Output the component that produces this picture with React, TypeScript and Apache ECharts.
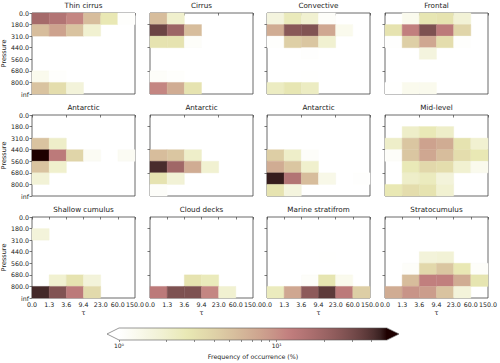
import React, { useEffect, useRef } from "react";
import * as echarts from "echarts";

// ---- Data (frequency of occurrence, %) rows = pressure bins (top→bottom), cols = tau bins ----
const TAU_LABELS = ["0.0", "1.3", "3.6", "9.4", "23.0", "60.0", "150.0"];
const PRESSURE_LABELS = ["0.0", "180.0", "310.0", "440.0", "560.0", "680.0", "800.0", "inf"];
const TITLES = [
  "Thin cirrus", "Cirrus", "Convective", "Frontal",
  "Antarctic", "Antarctic", "Antarctic", "Mid-level",
  "Shallow cumulus", "Cloud decks", "Marine stratifrom", "Stratocumulus",
];

const thinCirrus = [
  [18, 15, 11, 5.5, 2.7, 1.05],
  [5.5, 8, 5, 1.9, 0, 0],
  [0, 0, 0, 0, 0, 0],
  [0, 0, 0, 0, 0, 0],
  [0, 0, 0, 0, 0, 0],
  [1.3, 1.05, 0, 0, 0, 0],
  [5, 3.3, 1.7, 0, 0, 0],
];
const cirrus = [
  [5.5, 2, 0, 0, 0, 0],
  [33, 20, 5.5, 0, 0, 0],
  [3, 3, 1.1, 0, 0, 0],
  [0, 0, 0, 0, 0, 0],
  [0, 0, 0, 0, 0, 0],
  [1.1, 1.05, 0, 0, 0, 0],
  [11, 7, 3, 0, 0, 0],
];
const convective = [
  [1.6, 2.5, 1.9, 1.1, 0, 0],
  [7, 25, 27, 7.5, 1.3, 0],
  [1.05, 4.2, 4.8, 1.9, 0, 0],
  [0, 0, 1.03, 0, 0, 0],
  [0, 0, 0, 0, 0, 0],
  [0, 0, 1.02, 0, 0, 0],
  [2.3, 2.8, 2.3, 0, 0, 0],
];
const frontal = [
  [0, 1.3, 2.8, 3, 1.8, 0],
  [3, 12, 28, 13, 3.8, 0],
  [1.03, 4.2, 7.5, 3.3, 1.05, 0],
  [0, 0, 1.6, 0, 0, 0],
  [0, 0, 0, 0, 0, 0],
  [0, 0, 0, 0, 0, 0],
  [1.02, 1.3, 1.3, 0, 0, 0],
];
const antarctic1 = [
  [0, 0, 0, 0, 0, 0],
  [0, 0, 0, 0, 0, 0],
  [5, 2.1, 0, 0, 0, 0],
  [50, 13, 3.8, 1.2, 0, 1.2],
  [5, 2, 0, 0, 0, 0],
  [1.8, 0, 0, 0, 0, 0],
  [0, 0, 0, 0, 0, 0],
];
const antarctic2 = [
  [0, 0, 0, 0, 0, 0],
  [0, 0, 0, 0, 0, 0],
  [0, 0, 0, 0, 0, 0],
  [5.5, 4.8, 2.1, 0, 0, 0],
  [42, 19, 7, 1.9, 0, 0],
  [3, 1.8, 0, 0, 0, 0],
  [1.1, 0, 0, 0, 0, 0],
];
const antarctic3 = [
  [0, 0, 0, 0, 0, 0],
  [0, 0, 0, 0, 0, 0],
  [0, 0, 0, 0, 0, 0],
  [4.3, 2.1, 1.1, 0, 0, 0],
  [7, 4.8, 2, 0, 0, 0],
  [46, 15, 5.5, 1.4, 0, 1.03],
  [3, 1.6, 0, 0, 0, 0],
];
const midLevel = [
  [0, 0, 0, 0, 0, 0],
  [0, 2.1, 2.6, 2.1, 0, 0],
  [2.1, 4.8, 8, 7, 3, 1.9],
  [1.1, 4.8, 7.5, 5.5, 3.3, 2.7],
  [0, 2.6, 3.6, 3.3, 1.9, 1.3],
  [0, 2.1, 2.4, 1.7, 0, 0],
  [2.7, 3.3, 3, 1.9, 0, 0],
];
const shallowCumulus = [
  [0, 0, 0, 0, 0, 0],
  [1.7, 0, 0, 0, 0, 0],
  [0, 0, 0, 0, 0, 0],
  [0, 0, 0, 0, 0, 0],
  [0, 0, 0, 0, 0, 0],
  [0, 1.9, 3, 1.7, 0, 0],
  [43, 27, 13, 3.5, 0, 0],
];
const cloudDecks = [
  [0, 0, 0, 0, 0, 0],
  [0, 0, 0, 0, 0, 0],
  [0, 0, 0, 0, 0, 0],
  [0, 0, 0, 0, 0, 0],
  [0, 0, 0, 0, 0, 0],
  [0, 0, 3, 2.5, 0, 0],
  [13, 28, 28, 11, 1.9, 0],
];
const marineStratiform = [
  [0, 0, 0, 0, 0, 0],
  [0, 0, 0, 0, 0, 0],
  [0, 0, 0, 0, 0, 0],
  [0, 0, 0, 1.02, 0, 0],
  [0, 0, 0, 0, 0, 0],
  [0, 0, 1.1, 2.9, 1.3, 0],
  [2.4, 7.5, 24, 37, 13, 4.3],
];
const stratocumulus = [
  [0, 0, 0, 0, 0, 0],
  [0, 0, 0, 0, 0, 0],
  [0, 0, 0, 0, 0, 0],
  [0, 0, 1.7, 1.8, 0, 0],
  [0, 1.1, 3.6, 4.8, 2.7, 1.1],
  [0, 5.5, 12, 12, 7, 2.9],
  [7, 9.5, 8.5, 5, 1.7, 0],
];

const PANELS = [
  thinCirrus, cirrus, convective, frontal,
  antarctic1, antarctic2, antarctic3, midLevel,
  shallowCumulus, cloudDecks, marineStratiform, stratocumulus,
];

const CBAR_MIN = 1;
const CBAR_MAX = 50;
const CBAR_MINOR = [2, 3, 4, 5, 6, 7, 8, 9, 20, 30, 40];

// ---- colormap (matplotlib pink_r) ----
function pink(t: number): [number, number, number] {
  const hr = Math.min(1, 0.0416 + (t / 0.365079) * (1 - 0.0416));
  const hg = Math.max(0, Math.min(1, (t - 0.365079) / (0.746032 - 0.365079)));
  const hb = Math.max(0, Math.min(1, (t - 0.746032) / (1 - 0.746032)));
  return [
    Math.sqrt((2 * t + hr) / 3),
    Math.sqrt((2 * t + hg) / 3),
    Math.sqrt((2 * t + hb) / 3),
  ];
}
function pinkR(t: number): string {
  const [r, g, b] = pink(1 - t);
  const h = (x: number) => Math.round(Math.max(0, Math.min(1, x)) * 255);
  return `rgb(${h(r)},${h(g)},${h(b)})`;
}
const NSTOP = 40;
const CMAP = Array.from({ length: NSTOP + 1 }, (_, i) => pinkR(i / NSTOP));

const FONT = "DejaVu Sans";
const TXT = "#222222";
const GRID_LEFT = [32, 150, 267, 385];
const GRID_TOP = [13, 115, 217];
const GRID_W = 103;
const GRID_H = 81;

export default function App() {
  const ref = useRef<HTMLDivElement>(null);
  useEffect(() => {
    if (!ref.current) return;
    const chart = echarts.init(ref.current, undefined, { renderer: "svg" });
    const LOGMIN = Math.log10(CBAR_MIN);
    const LOGMAX = Math.log10(CBAR_MAX);

    const grids: any[] = [];
    const xAxes: any[] = [];
    const yAxes: any[] = [];
    const series: any[] = [];
    const titles: any[] = [];
    const labelRich = { t: { fontFamily: FONT, fontSize: 6.3, color: TXT } };

    PANELS.forEach((panel, i) => {
      const row = Math.floor(i / 4);
      const col = i % 4;
      const isBottom = row === 2;
      const isLeft = col === 0;
      grids.push({
        left: GRID_LEFT[col], top: GRID_TOP[row], width: GRID_W, height: GRID_H,
        show: true, borderColor: "#444", borderWidth: 0.8, backgroundColor: "transparent",
        outerBoundsMode: "none", containLabel: false,
      });
      titles.push({
        text: TITLES[i], left: GRID_LEFT[col] + GRID_W / 2, top: GRID_TOP[row] - 11,
        textAlign: "center", padding: 0,
        textStyle: { fontFamily: FONT, fontSize: 7.2, fontWeight: "normal", color: TXT },
      });
      xAxes.push({
        type: "value", gridIndex: i, min: 0, max: 6, interval: 1,
        name: isBottom ? "τ" : "", nameLocation: "middle", nameGap: 11,
        nameTextStyle: { fontFamily: FONT, fontSize: 6.5, color: TXT },
        axisLine: { show: false },
        splitLine: { show: false },
        axisTick: {
          show: true, length: 2.5, inside: false,
          lineStyle: { color: "#444", width: 0.7 },
          customValues: isBottom ? [0, 1, 2, 3, 4, 5, 6] : [0, 2, 4, 6],
        },
        axisLabel: {
          show: isBottom, fontFamily: FONT, fontSize: 6.3, color: TXT, margin: 3,
          customValues: [0, 1, 2, 3, 4, 5, 6],
          rich: labelRich,
          formatter: (v: number) => `{t|${TAU_LABELS[Math.round(v)] ?? ""}}`,
        },
      });
      yAxes.push({
        type: "value", gridIndex: i, min: 0, max: 7, interval: 1, inverse: true,
        name: isLeft ? "Pressure" : "", nameLocation: "middle", nameGap: 21,
        nameTextStyle: { fontFamily: FONT, fontSize: 6.5, color: TXT },
        axisLine: { show: false },
        splitLine: { show: false },
        axisTick: {
          show: true, length: 2.5,
          lineStyle: { color: "#444", width: 0.7 },
          customValues: isLeft ? [0, 1, 2, 3, 4, 5, 6, 7] : [1, 3, 5],
        },
        axisLabel: {
          show: isLeft, fontFamily: FONT, fontSize: 6.3, color: TXT, margin: 3,
          customValues: [0, 1, 2, 3, 4, 5, 6, 7],
          rich: labelRich,
          formatter: (v: number) => `{t|${PRESSURE_LABELS[Math.round(v)] ?? ""}}`,
        },
      });
      const data: number[][] = [];
      panel.forEach((r, ri) =>
        r.forEach((v, ci) => {
          if (v > 0) data.push([ci, ri, Math.log10(Math.min(v, CBAR_MAX))]);
        })
      );
      series.push({
        type: "custom", xAxisIndex: i, yAxisIndex: i, data, silent: true,
        encode: { x: 0, y: 1 },
        renderItem: (_p: any, api: any) => {
          const c = api.value(0), r = api.value(1);
          const a = api.coord([c, r]);
          const b = api.coord([c + 1, r + 1]);
          const color = api.visual("color");
          return {
            type: "rect",
            shape: {
              x: Math.min(a[0], b[0]), y: Math.min(a[1], b[1]),
              width: Math.abs(b[0] - a[0]), height: Math.abs(b[1] - a[1]),
            },
            style: { fill: color, stroke: color, lineWidth: 0.4 },
          };
        },
      });
    });

    // colorbar
    const cbIdx = PANELS.length;
    grids.push({ left: 119, width: 268, top: 328, height: 12, outerBoundsMode: "none", containLabel: false });
    xAxes.push({
      type: "value", gridIndex: cbIdx, min: LOGMIN, max: LOGMAX,
      name: "Frequency of occurrence (%)", nameLocation: "middle", nameGap: 13,
      nameTextStyle: { fontFamily: FONT, fontSize: 6.3, color: TXT },
      axisLine: { show: false }, splitLine: { show: false },
      axisTick: {
        show: true, length: 2, lineStyle: { color: "#444", width: 0.6 },
        customValues: [0, 1, ...CBAR_MINOR.map((v) => Math.log10(v))],
      },
      axisLabel: {
        show: true, fontFamily: FONT, fontSize: 6, color: TXT, margin: 2,
        customValues: [0, 1],
        formatter: (v: number) => (Math.round(v) === 0 ? "10⁰" : "10¹"),
      },
    });
    yAxes.push({ type: "value", gridIndex: cbIdx, min: 0, max: 1, show: false });
    series.push({
      type: "custom", xAxisIndex: cbIdx, yAxisIndex: cbIdx, data: [[LOGMIN, 0]], silent: true,
      clip: false,
      renderItem: (_p: any, api: any) => {
        const a = api.coord([LOGMIN, 0]);
        const b = api.coord([LOGMAX, 1]);
        const x0 = a[0], x1 = b[0], yb = a[1], yt = b[1];
        const h = yb - yt;
        const ym = (yt + yb) / 2;
        const stops = CMAP.map((c, k) => ({ offset: k / NSTOP, color: c }));
        return {
          type: "group",
          children: [
            {
              type: "rect", shape: { x: x0, y: yt, width: x1 - x0, height: h },
              style: { fill: new echarts.graphic.LinearGradient(0, 0, 1, 0, stops) },
            },
            {
              type: "polygon", shape: { points: [[x0 + 0.5, yt], [x0 - h, ym], [x0 + 0.5, yb]] },
              style: { fill: CMAP[0] },
            },
            {
              type: "polygon", shape: { points: [[x1 - 0.5, yt], [x1 + h, ym], [x1 - 0.5, yb]] },
              style: { fill: CMAP[NSTOP] },
            },
            {
              type: "polygon",
              shape: { points: [[x0, yt], [x1, yt], [x1 + h, ym], [x1, yb], [x0, yb], [x0 - h, ym]] },
              style: { fill: "none", stroke: "#555", lineWidth: 0.6 },
            },
          ],
        };
      },
    });

    chart.setOption({
      animation: false,
      textStyle: { fontFamily: FONT },
      title: titles,
      grid: grids,
      xAxis: xAxes,
      yAxis: yAxes,
      visualMap: {
        type: "continuous", show: false, min: LOGMIN, max: LOGMAX, dimension: 2,
        seriesIndex: PANELS.map((_, i) => i),
        inRange: { color: CMAP },
        outOfRange: { color: "#ffffff" },
      },
      series,
    });
    return () => chart.dispose();
  }, []);
  return (
    <div
      ref={ref}
      style={{ position: "fixed", left: 0, top: 0, width: 500, height: 363, background: "#fff" }}
    />
  );
}
